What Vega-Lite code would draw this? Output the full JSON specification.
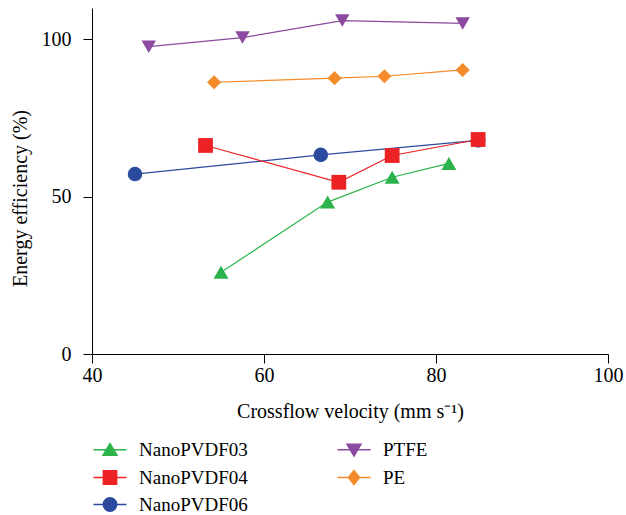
{
  "$schema": "https://vega.github.io/schema/vega-lite/v6.json",
  "width": 516,
  "height": 346,
  "autosize": {"type": "none"},
  "padding": {"left": 92, "top": 8, "right": 18, "bottom": 161},
  "background": "white",
  "config": {
    "font": "Liberation Serif, Liberation Sans, sans-serif",
    "view": {"stroke": null},
    "axis": {
      "domainColor": "black",
      "tickColor": "black",
      "labelColor": "black",
      "titleColor": "black",
      "labelFontSize": 20,
      "titleFontSize": 20,
      "titleFontWeight": "normal",
      "labelFont": "Liberation Serif, Liberation Sans, sans-serif",
      "titleFont": "Liberation Serif, Liberation Sans, sans-serif",
      "grid": false,
      "tickSize": 9,
      "domainWidth": 1,
      "tickWidth": 1,
      "labelFlush": false
    },
    "legend": {"labelFont": "Liberation Serif, Liberation Sans, sans-serif"}
  },
  "data": {
    "values": [
      {"series": "PTFE", "v": 46.6, "e": 97.7},
      {"series": "PTFE", "v": 57.5, "e": 100.6},
      {"series": "PTFE", "v": 69.1, "e": 106.0},
      {"series": "PTFE", "v": 83.1, "e": 105.1},
      {"series": "PE", "v": 54.2, "e": 86.4},
      {"series": "PE", "v": 68.2, "e": 87.7},
      {"series": "PE", "v": 74.0, "e": 88.3},
      {"series": "PE", "v": 83.1, "e": 90.3},
      {"series": "NanoPVDF06", "v": 45.0, "e": 57.2},
      {"series": "NanoPVDF06", "v": 66.6, "e": 63.3},
      {"series": "NanoPVDF06", "v": 84.9, "e": 67.9},
      {"series": "NanoPVDF03", "v": 55.0, "e": 26.0},
      {"series": "NanoPVDF03", "v": 67.4, "e": 48.3},
      {"series": "NanoPVDF03", "v": 74.9, "e": 56.2},
      {"series": "NanoPVDF03", "v": 81.5, "e": 60.6},
      {"series": "NanoPVDF04", "v": 53.2, "e": 66.3},
      {"series": "NanoPVDF04", "v": 68.7, "e": 54.6},
      {"series": "NanoPVDF04", "v": 74.9, "e": 63.1},
      {"series": "NanoPVDF04", "v": 84.9, "e": 68.2}
    ]
  },
  "encoding": {
    "x": {
      "field": "v", "type": "quantitative",
      "scale": {"domain": [40, 100], "nice": false, "zero": false},
      "axis": {"values": [40, 60, 80, 100], "labelPadding": 2, "title": "Crossflow velocity (mm s⁻¹)", "titleX": 258, "titleY": 63, "titleBaseline": "alphabetic"}
    },
    "y": {
      "field": "e", "type": "quantitative",
      "scale": {"domain": [0, 110], "nice": false},
      "axis": {"values": [0, 50, 100], "labelPadding": 12, "title": "Energy efficiency (%)", "titleX": -66, "titleY": 190, "titleBaseline": "alphabetic"}
    }
  },
  "layer": [
    {
      "mark": {"type": "line", "strokeWidth": 1.2},
      "encoding": {
        "color": {
          "field": "series", "type": "nominal",
          "scale": {"domain": ["NanoPVDF03", "NanoPVDF04", "NanoPVDF06", "PTFE", "PE"], "range": ["#2db34b", "#ed2224", "#2b4a9e", "#8b4a9f", "#f48a28"]},
          "legend": null
        }
      }
    },
    {
      "mark": {"type": "point", "filled": true, "opacity": 1},
      "encoding": {
        "color": {
          "field": "series", "type": "nominal",
          "scale": {"domain": ["NanoPVDF03", "NanoPVDF04", "NanoPVDF06", "PTFE", "PE"], "range": ["#2db34b", "#ed2224", "#2b4a9e", "#8b4a9f", "#f48a28"]},
          "legend": null
        },
        "shape": {
          "field": "series", "type": "nominal",
          "scale": {"domain": ["NanoPVDF03", "NanoPVDF04", "NanoPVDF06", "PTFE", "PE"], "range": ["triangle-up", "square", "circle", "triangle-down", "diamond"]},
          "legend": null
        },
        "size": {
          "field": "series", "type": "nominal",
          "scale": {"domain": ["NanoPVDF03", "NanoPVDF04", "NanoPVDF06", "PTFE", "PE"], "range": [225, 200, 190, 225, 175]},
          "legend": null
        }
      }
    },
    {
      "transform": [{"filter": "datum.e < 0"}],
      "mark": {"type": "point", "filled": true, "opacity": 1, "strokeWidth": 1.3},
      "encoding": {
        "fill": {
          "field": "series", "type": "nominal",
          "scale": {"domain": ["NanoPVDF03", "NanoPVDF04", "NanoPVDF06", "PTFE", "PE"], "range": ["#2db34b", "#ed2224", "#2b4a9e", "#8b4a9f", "#f48a28"]},
          "legend": {"orient": "none", "legendX": 8.5, "legendY": 432, "columns": 2, "title": null, "labelFontSize": 19, "labelColor": "black", "symbolSize": 225, "labelOffset": 19.5, "rowPadding": 7, "columnPadding": 86, "symbolStrokeWidth": 1.3, "padding": 0, "labelLimit": 400}
        },
        "stroke": {
          "field": "series", "type": "nominal",
          "scale": {"domain": ["NanoPVDF03", "NanoPVDF04", "NanoPVDF06", "PTFE", "PE"], "range": ["#2db34b", "#ed2224", "#2b4a9e", "#8b4a9f", "#f48a28"]},
          "legend": {"orient": "none", "legendX": 8.5, "legendY": 432, "columns": 2, "title": null, "labelFontSize": 19, "labelColor": "black", "symbolSize": 225, "labelOffset": 19.5, "rowPadding": 7, "columnPadding": 86, "symbolStrokeWidth": 1.3, "padding": 0, "labelLimit": 400}
        },
        "shape": {
          "field": "series", "type": "nominal",
          "scale": {"domain": ["NanoPVDF03", "NanoPVDF04", "NanoPVDF06", "PTFE", "PE"], "range": [
            "M-2.2,0H2.2M0,-0.85L0.95,0.75L-0.95,0.75Z",
            "M-2.2,0H2.2M-0.9,-0.9H0.9V0.9H-0.9Z",
            "M-2.2,0H2.2M-0.9,0A0.9,0.9 0 1,0 0.9,0A0.9,0.9 0 1,0 -0.9,0Z",
            "M-2.2,0H2.2M0,0.85L0.95,-0.75L-0.95,-0.75Z",
            "M-2.2,0H2.2M0,-0.95L0.75,0L0,0.95L-0.75,0Z"
          ]},
          "legend": {"orient": "none", "legendX": 8.5, "legendY": 432, "columns": 2, "title": null, "labelFontSize": 19, "labelColor": "black", "symbolSize": 225, "labelOffset": 19.5, "rowPadding": 7, "columnPadding": 86, "symbolStrokeWidth": 1.3, "padding": 0, "labelLimit": 400}
        }
      }
    }
  ],
  "resolve": {"scale": {"shape": "independent", "fill": "independent", "stroke": "independent", "size": "independent"}}
}
